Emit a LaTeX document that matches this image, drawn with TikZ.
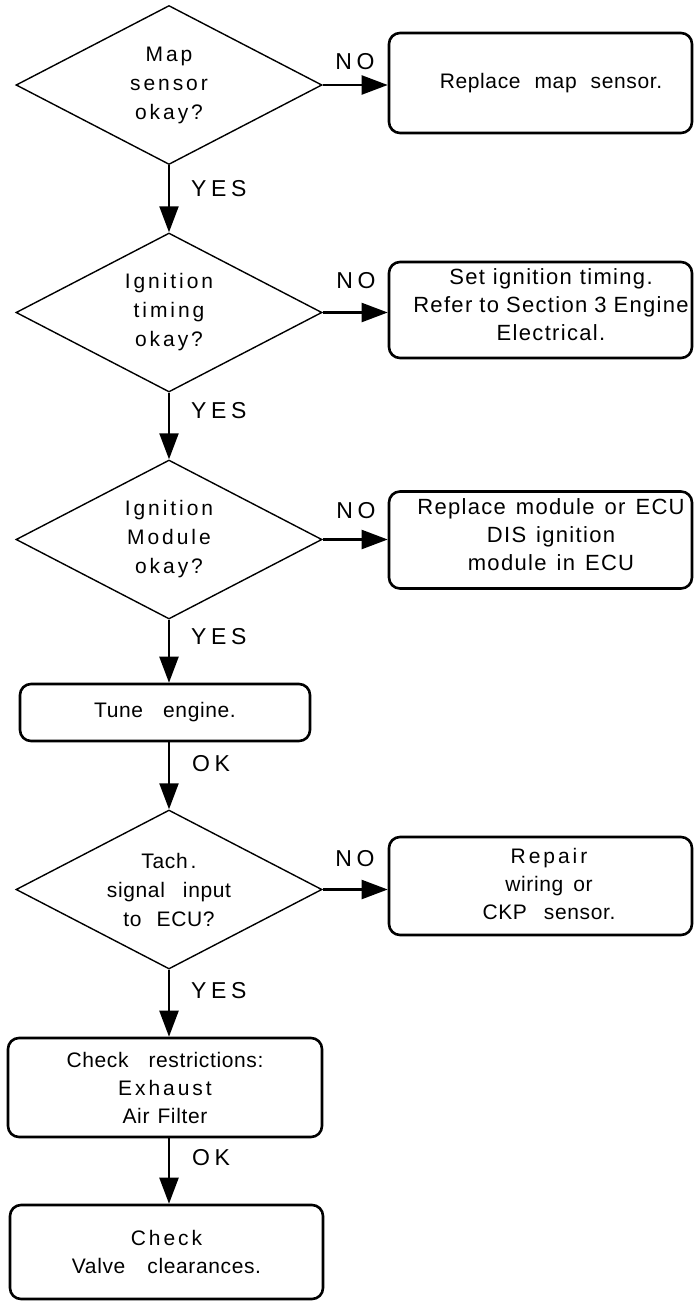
\documentclass[tikz,border=0pt]{standalone}
\usepackage{fontspec}
\setmainfont{Liberation Sans}[LetterSpace=3]
\newfontfamily\spacedfont{Liberation Sans}[LetterSpace=14]
\newfontfamily\widefont{Liberation Sans}[LetterSpace=6]
\newfontfamily\flowlabelfont{Liberation Sans}[LetterSpace=20]
\usetikzlibrary{shapes.geometric,arrows.meta}
\newcommand\sw[1]{{\spacedfont #1}}
\newcommand\gap[1]{\hspace{#1pt}}

\tikzset{
  decision/.style={diamond, draw, line width=1.4pt, aspect=1.925,
    minimum width=306pt, minimum height=159pt, inner sep=0pt,
    align=center, font=\fontsize{21}{29}\selectfont},
  action/.style={rectangle, draw, line width=2.6pt, rounded corners=11pt,
    inner sep=0pt},
  msg/.style={align=center, font=\fontsize{21}{28}\selectfont, inner sep=0pt},
  widemsg/.style={align=center, font=\fontsize{22}{28}\widefont, inner sep=0pt},
  flow/.style={line width=2.2pt, -{Triangle[length=26pt,width=19pt]}},
  answer/.style={font=\fontsize{23}{23}\flowlabelfont, inner sep=0pt}
}

\begin{document}
\begin{tikzpicture}[x=1pt,y=-1pt]
\useasboundingbox (0,0) rectangle (694,1301);

% decisions
\node[decision] (d1) at (169,85) {\sw{Map}\\\sw{sensor}\\\sw{okay?}};
\node[decision] (d2) at (169,312.5) {\sw{Ignition}\\\sw{timing}\\\sw{okay?}};
\node[decision] (d3) at (169,539.5) {\sw{Ignition}\\\sw{Module}\\\sw{okay?}};
\node[decision] (d4) at (169,889.5) {Tach\gap{3}.\\signal\gap{18}input\\to\gap{15}ECU?};

% corrective actions on the right
\node[action, minimum width=303pt, minimum height=100pt] (fix1) at (540.5,83) {};
\node[msg] (fix1txt) at (551,83) {Replace\gap{14}map\gap{14}sensor.};

\node[action, minimum width=303pt, minimum height=96pt] (fix2) at (540.5,310) {};
\node[widemsg] (fix2txt) at (551,305) {Set\gap{8}ignition\gap{8}timing.\\Refer\gap{7}to\gap{7}Section\gap{7}3\gap{7}Engine\\Electrical.};

\node[action, minimum width=303pt, minimum height=97pt] (fix3) at (540.5,540) {};
\node[widemsg] (fix3txt) at (551,535) {Replace\gap{10}module\gap{10}or\gap{10}ECU\\DIS\gap{10}ignition\\module\gap{10}in\gap{10}ECU};

\node[action, minimum width=303pt, minimum height=98pt] (fix4) at (540.5,886) {};
\node[msg] (fix4txt) at (549,884) {\sw{Repair}\\wiring\gap{10}or\\CKP\gap{17}sensor.};

% main sequence boxes
\node[action, msg, minimum width=290pt, minimum height=57pt] (tune) at (165,712.5) {Tune\gap{20}engine.};
\node[action, msg, minimum width=314pt, minimum height=99pt] (restr) at (165,1087.5) {Check\gap{20}restrictions:\\\sw{Exhaust}\\Air\gap{8}Filter};
\node[action, msg, minimum width=313pt, minimum height=94pt] (valve) at (166.5,1252) {\sw{Check}\\Valve\gap{22}clearances.};

% connectors
\draw[flow] (d1.east) -- (d1.east -| fix1.west);
\draw[flow] (d2.east) -- (d2.east -| fix2.west);
\draw[flow] (d3.east) -- (d3.east -| fix3.west);
\draw[flow] (d4.east) -- (d4.east -| fix4.west);

\draw[flow] (d1.south) -- (d2.north);
\draw[flow] (d2.south) -- (d3.north);
\draw[flow] (d3.south) -- (d3.south |- tune.north);
\draw[flow] (tune.south -| d4.north) -- (d4.north);
\draw[flow] (d4.south) -- (d4.south |- restr.north);
\draw[flow] (restr.south -| d4.south) -- (valve.north -| d4.south);

% branch labels
\node[answer] (no1) at (355,62) {NO};
\node[answer] (no2) at (356,281) {NO};
\node[answer] (no3) at (356,511) {NO};
\node[answer] (no4) at (355,859) {NO};

\node[answer, anchor=west] (yes1) at (191,189) {YES};
\node[answer, anchor=west] (yes2) at (191,411) {YES};
\node[answer, anchor=west] (yes3) at (191,637) {YES};
\node[answer, anchor=west] (yes4) at (191,991) {YES};
\node[answer, anchor=west] (ok1) at (192,764) {OK};
\node[answer, anchor=west] (ok2) at (192,1158) {OK};
\end{tikzpicture}
\end{document}
